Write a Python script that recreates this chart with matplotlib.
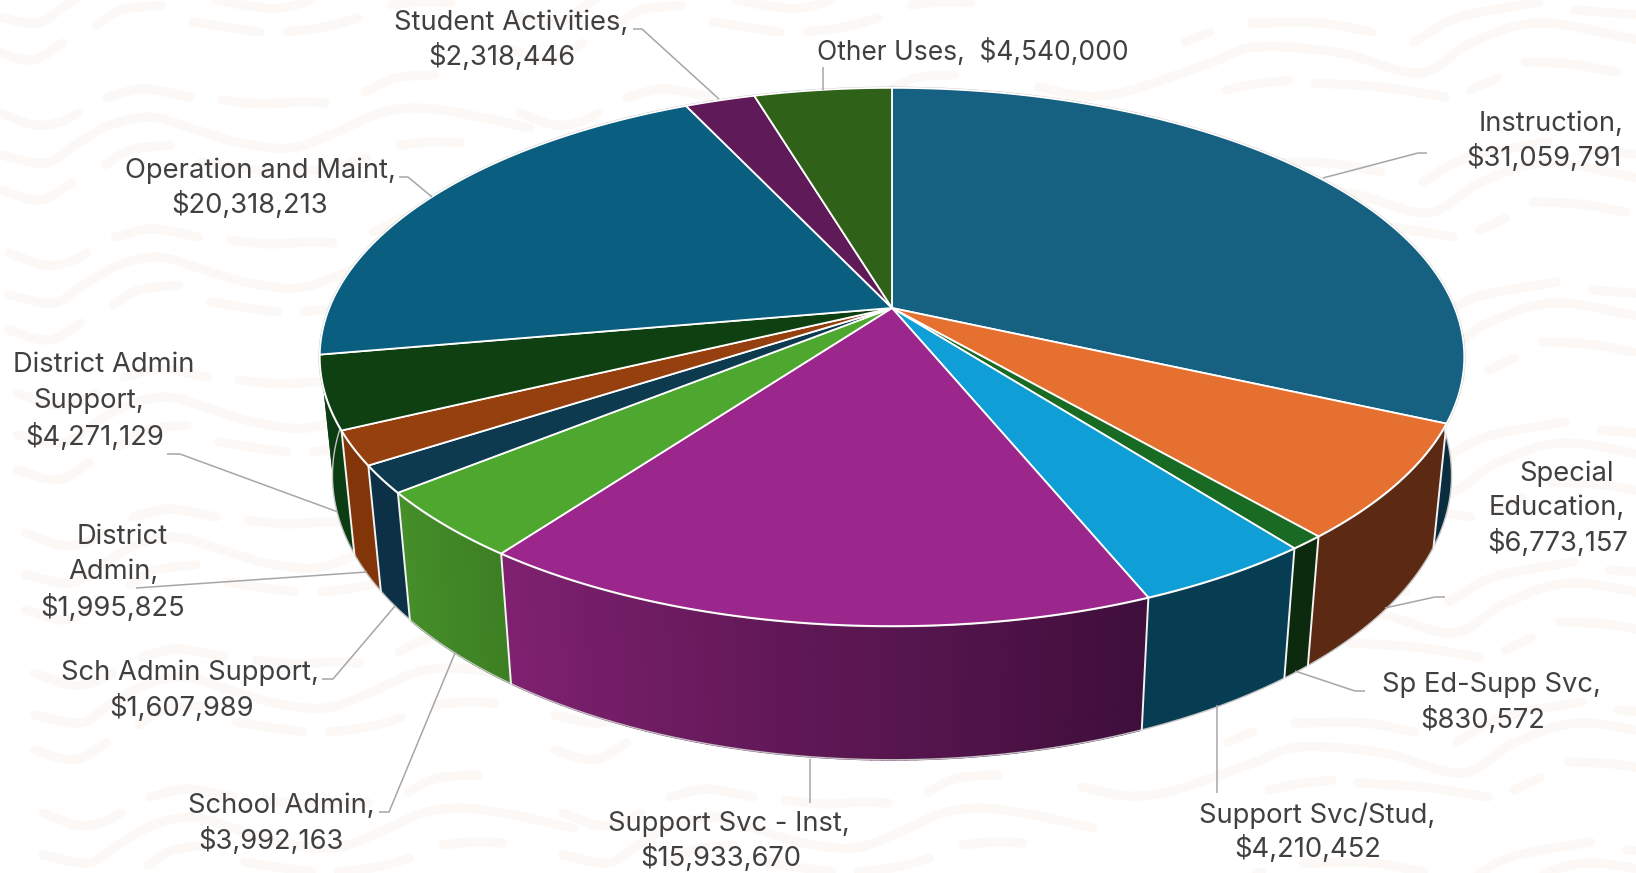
import numpy as np
import matplotlib
matplotlib.use("Agg")
import matplotlib.pyplot as plt
from matplotlib.collections import PolyCollection
from matplotlib.colors import to_rgb
from matplotlib.patches import Polygon

plt.rcParams["font.family"] = ["Inter", "DejaVu Sans"]

# ---- budget data ----
categories = [
    "Instruction", "Special Education", "Sp Ed-Supp Svc", "Support Svc/Stud",
    "Support Svc - Inst", "School Admin", "Sch Admin Support", "District Admin",
    "District Admin Support", "Operation and Maint", "Student Activities", "Other Uses",
]
values = [
    31059791, 6773157, 830572, 4210452, 15933670, 3992163,
    1607989, 1995825, 4271129, 20318213, 2318446, 4540000,
]
name_lines = [
    ["Instruction,"], ["Special", "Education,"], ["Sp Ed-Supp Svc,"], ["Support Svc/Stud,"],
    ["Support Svc - Inst,"], ["School Admin,"], ["Sch Admin Support,"], ["District", "Admin,"],
    ["District Admin", "Support,"], ["Operation and Maint,"], ["Student Activities,"], [],
]

# ---- slice colours ----
top_colors = [
    "#166082", "#E6702F", "#196B24", "#0F9ED5", "#9C278C", "#4EA72E",
    "#0E3A4F", "#96400F", "#0F4012", "#0A5E80", "#5F1A58", "#2F6118",
]
side_start = [
    "#0A2C3E", "#5C2A13", "#0B2A0E", "#073D52", "#3F0E3B", "#3D8024",
    "#0C3045", "#823508", "#0C3C12", "#0C3C12", "#3F1039", "#1E400F",
]
side_end = [
    "#0A2C3E", "#5C2A13", "#0B2A0E", "#073D52", "#7F2170", "#458E29",
    "#0C3045", "#823508", "#0C3C12", "#0C3C12", "#3F1039", "#1E400F",
]

# ---- perspective camera for the pie, in pixels ----
CX, CY = 892.0, 308.0
SCALE_X, SCALE_Y = 562.7, 260.2
TILT = 0.182
DROP_DEPTH, DROP_Y = 0.022, 119.3


def project(theta, level):
    """Project rim points; level 0 is the top face, level 1 the bottom face."""
    xw, yw = np.sin(theta), np.cos(theta)
    w = 1 + TILT * yw + DROP_DEPTH * level
    return CX + SCALE_X * xw / w, CY - (SCALE_Y * yw - DROP_Y * level) / w


# ---- background squiggles, one row of strokes per list entry ----
ROW_STEP_Y, ROW_SHIFT_X = 140, 8.6
left_strokes = [
    [(0, 155), (45, 163), (75, 145), (110, 125), (150, 117), (190, 128), (240, 143),
     (290, 148), (330, 135), (380, 113), (420, 108), (470, 115), (530, 128)],
    [(107, 97), (140, 89), (165, 92), (190, 97)],
    [(222, 100), (260, 104), (300, 102), (325, 103)],
    [(105, 165), (130, 150), (170, 145)],
    [(0, 113), (35, 125), (60, 122), (78, 113)],
    [(0, 190), (40, 200), (72, 183)],
    [(365, 92), (395, 78), (435, 75)],
    [(400, 145), (430, 142), (460, 143)],
    [(193, 22), (225, 27), (260, 32)],
    [(287, 32), (325, 27), (358, 18)],
]
right_strokes = [
    [(1039, 87), (1085, 96), (1132, 90), (1210, 63), (1257, 47), (1341, 53), (1419, 73),
     (1471, 43), (1539, 23), (1640, 40)],
    [(1226, 90), (1255, 84), (1289, 80)],
    [(1315, 83), (1380, 87), (1445, 97)],
    [(1471, 90), (1497, 78)],
    [(1252, 23), (1320, 23), (1372, 32)],
    [(1185, 42), (1210, 32)],
    [(1414, 42), (1460, 17), (1539, 2)],
    [(1575, 10), (1640, 15)],
    [(1525, 62), (1570, 64), (1617, 72)],
]

# ---- leader lines and label anchors, in pixels ----
leaders = [
    [(1427, 153), (1418, 153), (1323, 178)],
    [(1445, 597), (1435, 597), (1385, 608)],
    [(1365, 691), (1355, 691), (1295, 671)],
    [(1217, 793), (1217, 705)],
    [(810, 803), (810, 759)],
    [(379, 812), (389, 812), (455, 653)],
    [(322, 679), (333, 679), (395, 606)],
    [(136, 588), (367, 572)],
    [(167, 454), (180, 454), (338, 512)],
    [(399, 177), (408, 177), (432, 197)],
    [(633, 29), (642, 29), (719, 99)],
    [(823, 67), (823, 90)],
]
label_lines_xy = [
    [(1551, 124), (1544, 158)],
    [(1567, 474), (1557, 508), (1558, 543)],
    [(1491, 685), (1483, 720)],
    [(1317, 816), (1308, 849)],
    [(729, 824), (721, 858)],
    [(281, 806), (271, 841)],
    [(190, 673), (182, 708)],
    [(122, 537), (113, 572), (113, 608)],
    [(104, 365), (89, 401), (95, 437)],
    [(260, 171), (250, 205)],
    [(511, 23), (502, 57)],
    [(973, 52)],
]


def smooth(points, n=12):
    """Catmull-Rom curve through the stroke's control points."""
    p = np.array(points, float)
    p = np.vstack([2 * p[0] - p[1], p, 2 * p[-1] - p[-2]])
    out = []
    for i in range(1, len(p) - 2):
        t = np.linspace(0, 1, n, endpoint=False)[:, None]
        out.append(0.5 * (2 * p[i] + (p[i + 1] - p[i - 1]) * t
                          + (2 * p[i - 1] - 5 * p[i] + 4 * p[i + 1] - p[i + 2]) * t ** 2
                          + (3 * p[i] - p[i - 1] - 3 * p[i + 1] + p[i + 2]) * t ** 3))
    out.append(p[-2][None])
    return np.vstack(out)


fig = plt.figure(figsize=(16.36, 8.73), dpi=100, facecolor="white")
ax = fig.add_axes([0, 0, 1, 1])
ax.set_xlim(0, 1636)
ax.set_ylim(873, 0)
ax.axis("off")

# Squiggle wallpaper behind everything
stroke_pt = 9 * 72 / 100
for row in range(-2, 7):
    dx, dy = ROW_SHIFT_X * row, ROW_STEP_Y * row
    for offset, group, x_max in ((0, left_strokes, 560), (520, left_strokes, 1060), (0, right_strokes, 1700)):
        for stroke in group:
            c = smooth(stroke) + (offset + dx, dy)
            if c[0, 0] - dx > x_max:
                continue
            ax.plot(c[:, 0], c[:, 1], color="#FBF8F5", lw=stroke_pt,
                    solid_capstyle="round", solid_joinstyle="round", zorder=1)

# Slice angles, clockwise from twelve o'clock
fractions = np.array(values, float) / sum(values)
edges = 2 * np.pi * np.concatenate([[0], np.cumsum(fractions)])

# Outer wall of the pie: a solid band per slice, plus shading where the slice has a gradient
for i in range(len(values)):
    n = max(int((edges[i + 1] - edges[i]) * 60), 3)
    th = np.linspace(edges[i], edges[i + 1], n + 1)
    xt, yt = project(th, 0)
    xb, yb = project(th, 1)
    c0, c1 = np.array(to_rgb(side_start[i])), np.array(to_rgb(side_end[i]))
    band = list(zip(xt, yt)) + list(zip(xb[::-1], yb[::-1]))
    ax.add_patch(Polygon(band, closed=True, facecolor=(c0 + c1) / 2, edgecolor="none", zorder=3))
    if side_start[i] != side_end[i]:
        polys, cols = [], []
        for j in range(n):
            polys.append([(xt[j], yt[j]), (xt[j + 1], yt[j + 1]), (xb[j + 1], yb[j + 1]), (xb[j], yb[j])])
            cols.append(c0 + (c1 - c0) * j / max(n - 1, 1))
        ax.add_collection(PolyCollection(polys, facecolors=cols, edgecolors=cols, linewidths=1.2, zorder=3))

# Grey silhouette of the two rims
th_all = np.linspace(0, 2 * np.pi, 721)
ax.plot(*project(th_all, 1), color="#C4C4C4", lw=1.0, zorder=4)
ax.plot(*project(th_all, 0), color="#C4C4C4", lw=1.8, zorder=4)

# White seams between wall sections on the near side
for e in edges[1:-1]:
    if np.cos(e) < -0.2:
        xs, ys = zip(project(e, 0), project(e, 1))
        ax.plot(xs, ys, color="#F2F2F2", lw=1.4, zorder=5)

# Top face
for i in range(len(values)):
    n = max(int((edges[i + 1] - edges[i]) * 120), 3)
    th = np.linspace(edges[i], edges[i + 1], n + 1)
    xs, ys = project(th, 0)
    pts = [(CX, CY)] + list(zip(xs, ys))
    ax.add_patch(Polygon(pts, closed=True, facecolor=top_colors[i], edgecolor="white",
                         lw=1.3, joinstyle="round", zorder=6))

# Leader lines
for line in leaders:
    xs, ys = zip(*line)
    ax.plot(xs, ys, color="#A6A6A6", lw=1.1, zorder=7, solid_capstyle="butt")

# Data labels
for i, positions in enumerate(label_lines_xy):
    money = f"${values[i]:,}"
    size = 19.7
    if categories[i] == "Other Uses":
        lines = [f"{categories[i]},  {money}"]
        size = 19.0
    else:
        lines = name_lines[i] + [money]
    for text, (x, y) in zip(lines, positions):
        ax.text(x, y, text, ha="center", va="center", fontsize=size, color="#404040", zorder=8)

fig.savefig("out.png", dpi=100, facecolor="white")
